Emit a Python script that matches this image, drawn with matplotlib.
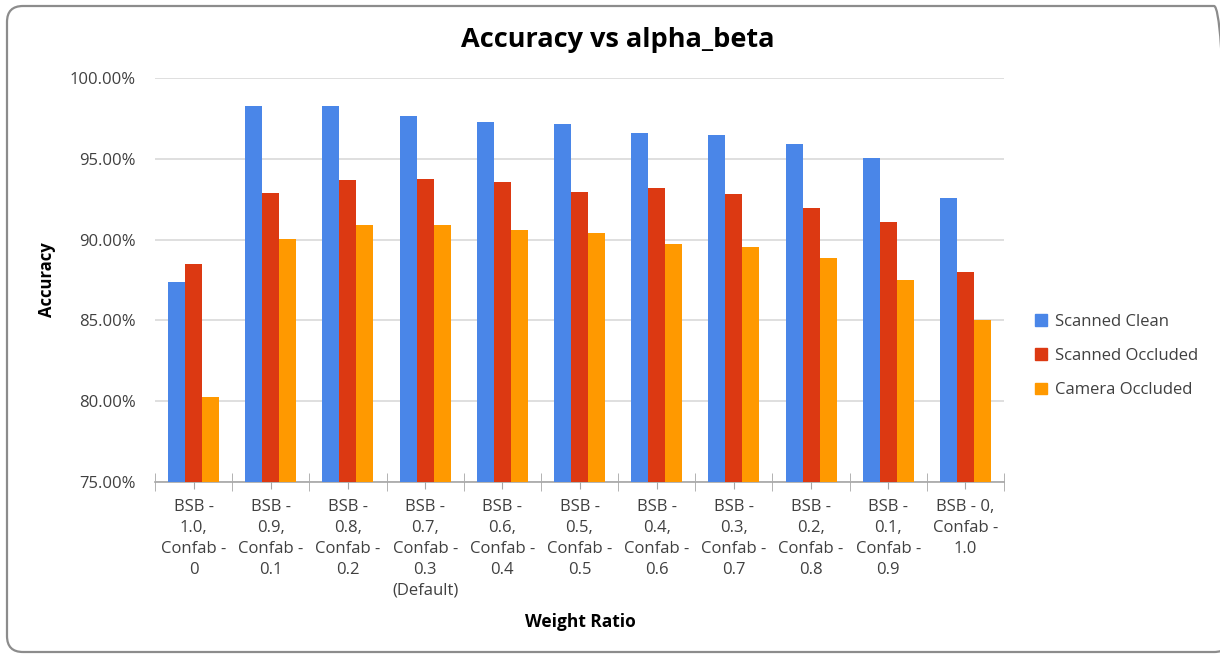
import numpy as np
import matplotlib
matplotlib.use("Agg")
import matplotlib.pyplot as plt
from matplotlib.patches import FancyBboxPatch, Patch
from matplotlib.ticker import FuncFormatter

# data
categories = ["BSB -\n1.0,\nConfab -\n0", "BSB -\n0.9,\nConfab -\n0.1", "BSB -\n0.8,\nConfab -\n0.2",
              "BSB -\n0.7,\nConfab -\n0.3\n(Default)", "BSB -\n0.6,\nConfab -\n0.4", "BSB -\n0.5,\nConfab -\n0.5",
              "BSB -\n0.4,\nConfab -\n0.6", "BSB -\n0.3,\nConfab -\n0.7", "BSB -\n0.2,\nConfab -\n0.8",
              "BSB -\n0.1,\nConfab -\n0.9", "BSB - 0,\nConfab -\n1.0"]
scanned_clean = [87.36, 98.29, 98.29, 97.62, 97.27, 97.15, 96.61, 96.45, 95.89, 95.02, 92.58]
scanned_occluded = [88.51, 92.87, 93.68, 93.78, 93.55, 92.95, 93.18, 92.81, 91.94, 91.07, 87.98]
camera_occluded = [80.29, 90.02, 90.91, 90.91, 90.58, 90.41, 89.75, 89.52, 88.84, 87.52, 85.02]
series_names = ["Scanned Clean", "Scanned Occluded", "Camera Occluded"]
colors = ["#4a86e8", "#dc3912", "#ff9900"]

plt.rcParams['font.family'] = ['Open Sans', 'DejaVu Sans']
txt = "#404040"

fig = plt.figure(figsize=(12.2, 6.54), dpi=100)
ax = fig.add_axes([155/1220, 1-482/654, (1004-155)/1220, (482-78)/654])

x = np.arange(len(categories))
w = 0.22
for k, vals in enumerate([scanned_clean, scanned_occluded, camera_occluded]):
    ax.bar(x + (k-1)*w, vals, width=w, color=colors[k], zorder=3)

ax.set_xlim(-0.5, len(categories)-0.5)
ax.set_ylim(75, 100)
ax.set_yticks([75, 80, 85, 90, 95, 100])
ax.yaxis.set_major_formatter(FuncFormatter(lambda v, p: "%.2f%%" % v))
ax.grid(axis='y', color='#d9d9d9', linewidth=1.2, zorder=0)
for s in ['top', 'right', 'left']:
    ax.spines[s].set_visible(False)
ax.spines['bottom'].set_color('#a6a6a6')
ax.spines['bottom'].set_linewidth(1.2)
ax.tick_params(axis='y', length=0, pad=14, labelsize=12, labelcolor=txt)

ax.set_xticks(x)
ax.set_xticklabels(categories, fontsize=12, color=txt, linespacing=1.42)
ax.set_xticks(np.arange(len(categories)+1) - 0.5, minor=True)
ax.tick_params(axis='x', which='major', direction='inout', length=10, color='#a6a6a6', pad=7)
ax.tick_params(axis='x', which='minor', direction='inout', length=13, color='#a6a6a6')

fig.text(618/1220, 1-40/654, "Accuracy vs alpha_beta", fontsize=19.5, fontweight='bold',
         ha='center', va='center', color='black')
fig.text(47/1220, 1-280/654, "Accuracy", fontsize=12, fontweight='bold', rotation=90,
         ha='center', va='center', color='black')
fig.text(580/1220, 1-622/654, "Weight Ratio", fontsize=12.5, fontweight='bold',
         ha='center', va='center', color='black')

handles = [Patch(color=c) for c in colors]
fig.legend(handles, series_names, loc='center left', bbox_to_anchor=(1020/1220, 1-356/654),
           frameon=False, fontsize=12, labelcolor=txt, handlelength=0.7, handleheight=0.7,
           handletextpad=0.5, labelspacing=1.1)

# rounded chart border
border = FancyBboxPatch((7, 2), 1223, 646, boxstyle="round,pad=0,rounding_size=16",
                        transform=None, fill=False, edgecolor='#8c8c8c', linewidth=1.6)
fig.patches.append(border)

fig.savefig("out.png", dpi=100)
